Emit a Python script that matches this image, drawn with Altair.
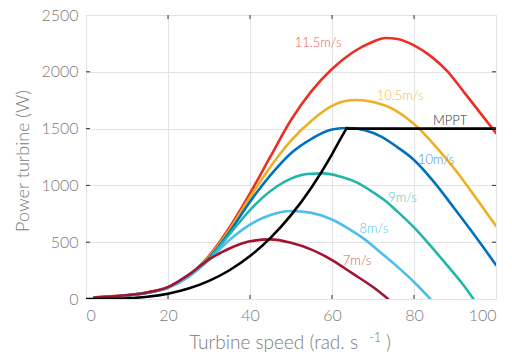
import altair as alt
import pandas as pd

# ---- data ----
x_115 = [2, 5, 10, 15, 20, 25, 30, 35, 40, 45, 50, 55, 60, 65, 70, 73, 76, 80, 84, 88, 92, 96, 100]
p_115 = [15, 21, 35, 60, 103, 205, 380, 630, 930, 1255, 1576, 1830, 2025, 2170, 2265, 2297, 2288, 2232, 2140, 2010, 1830, 1645, 1461]

x_105 = [2, 5, 10, 15, 20, 25, 30, 35, 40, 45, 50, 55, 60, 63, 66, 70, 75, 80, 85, 90, 95, 100]
p_105 = [13, 19, 33, 57, 101, 203, 370, 610, 895, 1165, 1395, 1570, 1700, 1740, 1752, 1735, 1670, 1540, 1355, 1140, 895, 643]

x_10 = [2, 5, 10, 15, 20, 25, 30, 35, 40, 45, 50, 55, 60, 64, 68, 72, 76, 80, 85, 90, 95, 100]
p_10 = [12, 18, 32, 56, 100, 200, 360, 590, 857, 1090, 1283, 1410, 1492, 1505, 1485, 1430, 1335, 1224, 1025, 790, 550, 299]

x_9 = [2, 5, 10, 15, 20, 25, 30, 35, 40, 45, 50, 54, 58, 62, 66, 70, 73, 76, 80, 84, 88, 92, 94.5]
p_9 = [12, 18, 31, 55, 99, 198, 350, 570, 783, 950, 1060, 1100, 1106, 1078, 1026, 940, 865, 768, 630, 470, 300, 125, 0]

x_8 = [2, 5, 10, 15, 20, 25, 30, 35, 40, 45, 50, 55, 60, 64, 68, 72, 76, 80, 84]
p_8 = [12, 18, 31, 55, 98, 195, 345, 520, 655, 740, 775, 758, 700, 620, 525, 405, 283, 150, 0]

x_7 = [2, 5, 10, 15, 20, 25, 30, 35, 40, 45, 50, 55, 60, 65, 70, 73.7]
p_7 = [12, 19, 33, 58, 105, 212, 348, 445, 508, 525, 495, 435, 343, 225, 105, 0]

# MPPT: rising (cubic-like) part, then flat rated-power part
x_mppt_rise = [0, 5, 10, 15, 20, 25, 30, 35, 40, 45, 50, 55, 60, 62, 63.5]
p_mppt_rise = [0, 1, 6, 20, 47, 92, 160, 253, 378, 538, 738, 982, 1274, 1405, 1500]
x_mppt_flat = [63.5, 100]
p_mppt_flat = [1500, 1500]

series_names = ["11.5m/s", "10.5m/s", "10m/s", "9m/s", "8m/s", "7m/s", "MPPT-rise", "MPPT-flat"]
series_x = [x_115, x_105, x_10, x_9, x_8, x_7, x_mppt_rise, x_mppt_flat]
series_p = [p_115, p_105, p_10, p_9, p_8, p_7, p_mppt_rise, p_mppt_flat]
line_colors = ["#EE2E24", "#EDB120", "#0072BD", "#22B5AC", "#4DBEEE", "#A2142F", "#000000", "#000000"]

label_text = ["11.5m/s", "10.5m/s", "10m/s", "9m/s", "8m/s", "7m/s", "MPPT"]
label_x = [56.6, 76.6, 85.4, 77.2, 70.2, 66.1, 88.8]
label_y = [2253, 1783, 1224, 893, 616, 334, 1567]
label_colors = ["#F25A5A", "#F2BA55", "#3F8FD4", "#45C6C2", "#55C4F0", "#C0625C", "#333333"]

x_ticks = [0, 20, 40, 60, 80, 100]
y_ticks = [0, 500, 1000, 1500, 2000, 2500]
inner_x_ticks = [20, 40, 60, 80]
inner_y_ticks = [500, 1000, 1500, 2000]

W, H = 410, 284
FONT = "Lato"
GRAY = "#7A7A7A"

rows = []
for name, xs, ps in zip(series_names, series_x, series_p):
    for xv, pv in zip(xs, ps):
        rows.append({"s": name, "x": xv, "p": pv})
df = pd.DataFrame(rows)

xscale = alt.Scale(domain=[0, 100], nice=False, zero=False)
yscale = alt.Scale(domain=[0, 2500], nice=False)

xaxis = alt.Axis(values=x_ticks, grid=True, gridColor="#E3E3E3", domain=False, ticks=False,
                 format="d", labelFont=FONT, labelFontSize=16, labelFontWeight=300, labelColor=GRAY,
                 labelPadding=8, title=None)
yaxis = alt.Axis(values=y_ticks, grid=True, gridColor="#E3E3E3", domain=False, ticks=False,
                 format="d", labelFont=FONT, labelFontSize=16, labelFontWeight=300, labelColor=GRAY,
                 labelPadding=8, title=None)

X = lambda: alt.X("x:Q", scale=xscale, axis=xaxis)
Y = lambda: alt.Y("p:Q", scale=yscale, axis=yaxis)

base = alt.Chart(df)
layers = []
for name, col in zip(series_names, line_colors):
    interp = "linear" if name == "MPPT-flat" else "monotone"
    layers.append(
        base.transform_filter(alt.datum.s == name)
        .mark_line(color=col, strokeWidth=2.6, interpolate=interp, clip=True, strokeCap="round")
        .encode(x=X(), y=Y())
    )

# inward ticks
tx = pd.DataFrame({"x": inner_x_ticks})
ty = pd.DataFrame({"p": inner_y_ticks})
tick_color = "#333333"
layers.append(alt.Chart(tx).mark_rule(color=tick_color, strokeWidth=1).encode(
    x=X(), y=alt.value(H), y2=alt.value(H - 4)))
layers.append(alt.Chart(tx).mark_rule(color=tick_color, strokeWidth=1).encode(
    x=X(), y=alt.value(0), y2=alt.value(4)))
layers.append(alt.Chart(ty).mark_rule(color=tick_color, strokeWidth=1).encode(
    y=Y(), x=alt.value(0), x2=alt.value(4)))
layers.append(alt.Chart(ty).mark_rule(color=tick_color, strokeWidth=1).encode(
    y=Y(), x=alt.value(W), x2=alt.value(W - 4)))

# series labels
ldf = pd.DataFrame({"t": label_text, "x": label_x, "p": label_y, "c": label_colors})
layers.append(alt.Chart(ldf).mark_text(font=FONT, fontSize=13, fontWeight=300, baseline="middle", align="center").encode(
    x=X(), y=Y(), text="t:N", color=alt.Color("c:N", scale=None)))

# axis titles
layers.append(alt.Chart(pd.DataFrame({"t": ["Turbine speed (rad. s"]})).mark_text(
    font=FONT, fontSize=19, fontWeight=300, color=GRAY, align="right", baseline="alphabetic").encode(
    text="t:N", x=alt.value(272), y=alt.value(334)))
layers.append(alt.Chart(pd.DataFrame({"t": ["-1"]})).mark_text(
    font=FONT, fontSize=13, fontWeight=300, color=GRAY, align="left", baseline="alphabetic").encode(
    text="t:N", x=alt.value(283), y=alt.value(327)))
layers.append(alt.Chart(pd.DataFrame({"t": [")"]})).mark_text(
    font=FONT, fontSize=19, fontWeight=300, color=GRAY, align="left", baseline="alphabetic").encode(
    text="t:N", x=alt.value(300), y=alt.value(334)))
layers.append(alt.Chart(pd.DataFrame({"t": ["Power turbine (W)"]})).mark_text(
    font=FONT, fontSize=18, fontWeight=300, color=GRAY, align="center", baseline="middle", angle=270).encode(
    text="t:N", x=alt.value(-62), y=alt.value(146)))

chart = alt.layer(*layers).properties(
    width=W, height=H,
    autosize=alt.AutoSizeParams(type="none"),
    padding={"left": 86, "top": 15, "right": 16, "bottom": 55},
).configure_view(stroke="#333333", strokeWidth=1.2).configure(background="white")

chart.save("out.html", embed_options={"renderer": "svg", "actions": False})
